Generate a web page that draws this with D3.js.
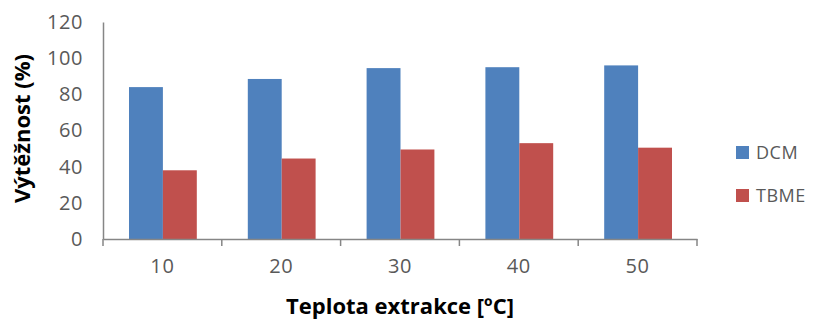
<!DOCTYPE html>
<html>
<head>
<meta charset="utf-8">
<script src="https://cdn.jsdelivr.net/npm/d3@7"></script>
<style>
  body { margin: 0; background: #fff; }
  text { font-family: "Open Sans", "Liberation Sans", sans-serif; }
</style>
</head>
<body>
<div id="chart"></div>
<script>
// data
const temps = ["10", "20", "30", "40", "50"];
const series = ["DCM", "TBME"];
const dcm = [84, 88.5, 94.5, 95, 96];
const tbme = [38, 44.5, 49.5, 53, 50.5];
const yTicks = [0, 20, 40, 60, 80, 100, 120];
const colors = ["#4f81bd", "#c0504d"];

const width = 813, height = 322;
const margin = { top: 22, right: 116, bottom: 83, left: 103 };
const plotW = width - margin.left - margin.right,
    plotH = height - margin.top - margin.bottom;

const svg = d3.select("#chart")
    .append("svg")
    .attr("width", width)
    .attr("height", height);

const g = svg.append("g")
    .attr("transform", `translate(${margin.left},${margin.top})`);

const x = d3.scaleBand()
    .domain(temps)
    .range([0, plotW])
    .paddingInner(0)
    .paddingOuter(0);

const x1 = d3.scaleBand()
    .domain(series)
    .range([26, x.bandwidth() - 25]);

const y = d3.scaleLinear()
    .domain([0, 120])
    .range([plotH, 0]);

const values = { DCM: dcm, TBME: tbme };

// bars
series.forEach((s, si) => {
    g.selectAll(".bar-" + s)
        .data(values[s])
        .join("rect")
        .attr("x", (d, i) => x(temps[i]) + x1(s))
        .attr("y", d => y(d))
        .attr("width", x1.bandwidth())
        .attr("height", d => y(0) - y(d))
        .attr("fill", colors[si]);
});

// y axis
const yAxis = g.append("g")
    .call(d3.axisLeft(y).tickValues(yTicks).tickSize(0).tickPadding(20));
yAxis.select(".domain").attr("stroke", "#868686").attr("stroke-width", 1.5);
yAxis.selectAll("text")
    .attr("fill", "#595959")
    .style("font-size", "20px")
    .style("letter-spacing", "0.6px");

// x axis
const xAxis = g.append("g")
    .attr("transform", `translate(0,${plotH})`)
    .call(d3.axisBottom(x).tickSize(0).tickPadding(20));
xAxis.select(".domain").attr("stroke", "#868686").attr("stroke-width", 1.5);
xAxis.selectAll("text")
    .attr("fill", "#595959")
    .style("font-size", "20px")
    .style("letter-spacing", "0.6px");

// tick marks at the category boundaries
const bounds = temps.map(t => x(t)).concat([plotW]);
g.append("g")
    .selectAll("line")
    .data(bounds)
    .join("line")
    .attr("x1", d => d)
    .attr("x2", d => d)
    .attr("y1", plotH)
    .attr("y2", plotH + 7)
    .attr("stroke", "#868686")
    .attr("stroke-width", 1.5);

// axis titles
svg.append("text")
    .attr("x", margin.left + plotW / 2)
    .attr("y", 314)
    .attr("text-anchor", "middle")
    .style("font-size", "22px")
    .style("font-weight", "bold")
    .attr("fill", "#000")
    .text("Teplota extrakce [ºC]");

svg.append("text")
    .attr("transform", `translate(30,${margin.top + plotH / 2 - 2}) rotate(-90)`)
    .attr("text-anchor", "middle")
    .style("font-size", "22px")
    .style("font-weight", "bold")
    .attr("fill", "#000")
    .text("Výtěžnost (%)");

// legend
const legend = svg.append("g")
    .attr("transform", "translate(736,146)");
series.forEach((s, i) => {
    const row = legend.append("g").attr("transform", `translate(0,${i * 43})`);
    row.append("rect")
        .attr("width", 13)
        .attr("height", 13)
        .attr("fill", colors[i]);
    row.append("text")
        .attr("x", 20)
        .attr("y", 7)
        .attr("dy", "0.35em")
        .attr("fill", "#595959")
        .style("font-size", "18px")
        .style("letter-spacing", "0.5px")
        .text(s);
});
</script>
</body>
</html>
